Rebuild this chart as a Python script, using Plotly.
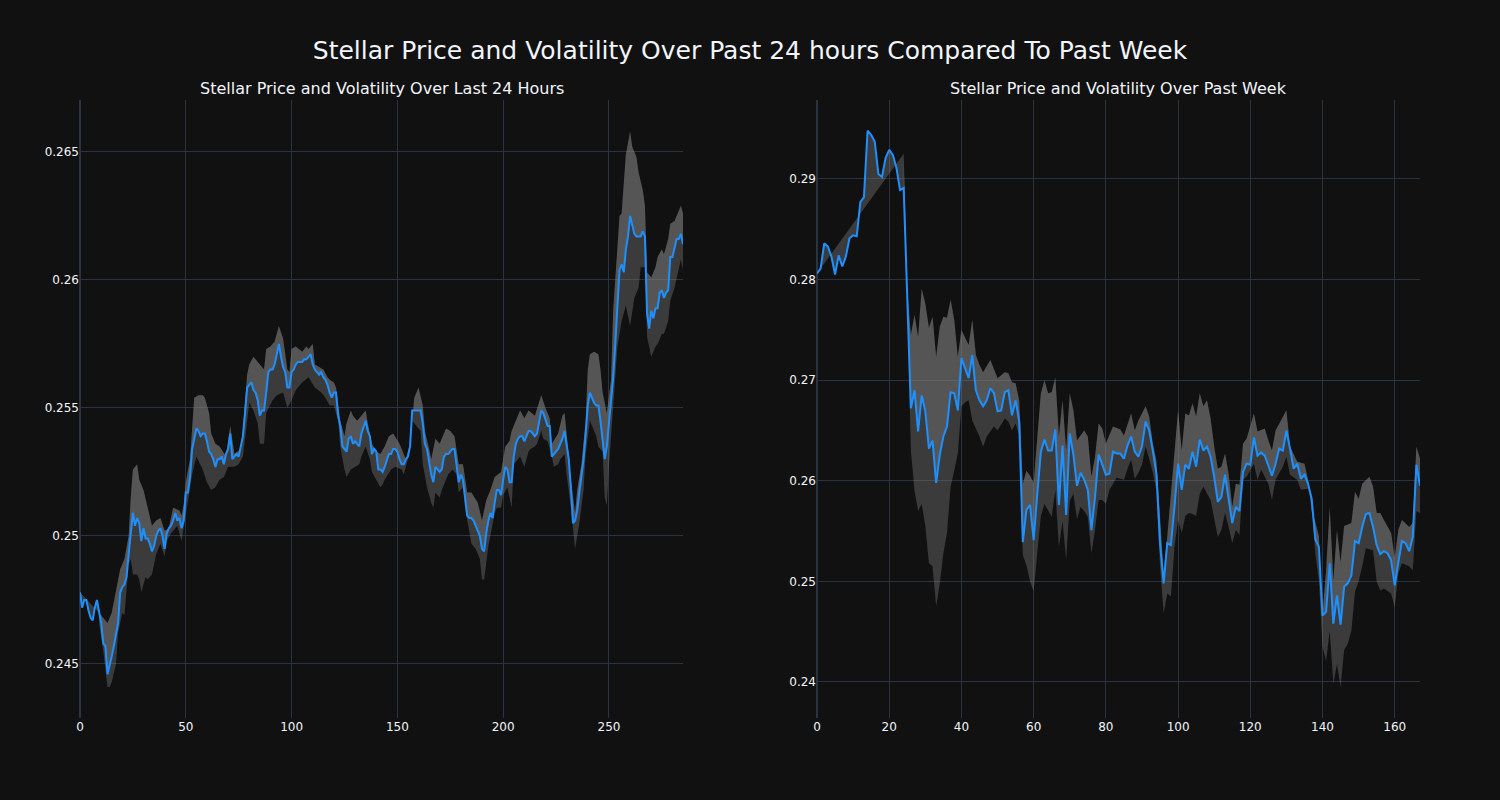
import plotly.graph_objects as go
from plotly.subplots import make_subplots

# ---------------- data: last 24 hours (5-minute steps) ----------------
day_price = [
    0.2478, 0.2472, 0.2475, 0.2475, 0.2471, 0.2468, 0.2467, 0.2472, 0.2475, 0.2470,
    0.2466, 0.2458, 0.2457, 0.2446, 0.2449, 0.2453, 0.2457, 0.2462, 0.2466, 0.2478,
    0.2480, 0.2481, 0.2484, 0.2493, 0.2501, 0.2509, 0.2504, 0.2507, 0.2505, 0.2498,
    0.2503, 0.2499, 0.2499, 0.2497, 0.2494, 0.2496, 0.2500, 0.2502, 0.2503, 0.2500,
    0.2495, 0.2501, 0.2503, 0.2504, 0.2506, 0.2509, 0.2506, 0.2507, 0.2503, 0.2506,
    0.2517, 0.2517, 0.2523, 0.2534, 0.2538, 0.2542, 0.2541, 0.2539, 0.2540, 0.2540,
    0.2537, 0.2533, 0.2532, 0.2530, 0.2527, 0.2530, 0.2530, 0.2531, 0.2528, 0.2532,
    0.2534, 0.2540, 0.2530, 0.2531, 0.2532, 0.2531, 0.2535, 0.2539, 0.2548, 0.2558,
    0.2559, 0.2560, 0.2557, 0.2556, 0.2553, 0.2547, 0.2549, 0.2549, 0.2556, 0.2564,
    0.2565, 0.2565, 0.2567, 0.2571, 0.2575, 0.2570, 0.2566, 0.2564, 0.2558, 0.2558,
    0.2564, 0.2565, 0.2567, 0.2568, 0.2568, 0.2568, 0.2569, 0.2569, 0.2570, 0.2571,
    0.2567, 0.2565, 0.2564, 0.2563, 0.2564, 0.2562, 0.2561, 0.2559, 0.2556, 0.2554,
    0.2556, 0.2556, 0.2547, 0.2543, 0.2535, 0.2534, 0.2533, 0.2538, 0.2539, 0.2536,
    0.2537, 0.2536, 0.2535, 0.2540, 0.2543, 0.2545, 0.2541, 0.2539, 0.2532, 0.2534,
    0.2533, 0.2526, 0.2526, 0.2525, 0.2527, 0.2530, 0.2532, 0.2532, 0.2534, 0.2534,
    0.2533, 0.2530, 0.2528, 0.2528, 0.2530, 0.2531, 0.2535, 0.2549, 0.2549, 0.2549,
    0.2549, 0.2549, 0.2544, 0.2536, 0.2534, 0.2528, 0.2524, 0.2521, 0.2527, 0.2526,
    0.2525, 0.2526, 0.2531, 0.2532, 0.2532, 0.2533, 0.2534, 0.2534, 0.2528, 0.2521,
    0.2524, 0.2522, 0.2515, 0.2508, 0.2507, 0.2507, 0.2506, 0.2504, 0.2502, 0.2500,
    0.2495, 0.2494, 0.2501, 0.2506, 0.2509, 0.2507, 0.2513, 0.2518, 0.2518, 0.2516,
    0.2522, 0.2527, 0.2526, 0.2521, 0.2521, 0.2531, 0.2536, 0.2538, 0.2539, 0.2539,
    0.2537, 0.2539, 0.2541, 0.2541, 0.2540, 0.2539, 0.2540, 0.2545, 0.2549, 0.2548,
    0.2545, 0.2543, 0.2543, 0.2531, 0.2532, 0.2533, 0.2534, 0.2536, 0.2538, 0.2541,
    0.2536, 0.2530, 0.2519, 0.2505, 0.2506, 0.2510, 0.2517, 0.2524, 0.2530, 0.2540,
    0.2551, 0.2556, 0.2554, 0.2552, 0.2551, 0.2551, 0.2545, 0.2538, 0.2530, 0.2535,
    0.2544, 0.2553, 0.2562, 0.2575, 0.2590, 0.2604, 0.2606, 0.2603, 0.2612, 0.2617,
    0.2625, 0.2622, 0.2618, 0.2617, 0.2617, 0.2617, 0.2619, 0.2617, 0.2587, 0.2581,
    0.2588, 0.2585, 0.2589, 0.2589, 0.2595, 0.2596, 0.2593, 0.2595, 0.2596, 0.2609,
    0.2609, 0.2612, 0.2616, 0.2616, 0.2618, 0.2614,
]

day_upper_x = [
    9, 11, 13, 15, 17, 19, 21, 23, 24, 25, 27, 28, 30, 32, 34, 36, 38, 40, 42, 44,
    47, 48, 49, 50, 52, 54, 56, 58, 59, 61, 62, 64, 66, 69, 71, 73, 76, 77, 79, 80,
    82, 85, 87, 88, 90, 92, 93, 94, 96, 97, 98, 99, 100, 102, 105, 107, 108, 110, 111, 113,
    115, 117, 118, 120, 121, 123, 125, 126, 128, 129, 131, 133, 135, 136, 138, 140, 142, 144, 146, 148,
    151, 154, 156, 158, 160, 162, 163, 165, 166, 168, 170, 173, 175, 177, 179, 181, 183, 185, 188, 190,
    192, 194, 196, 199, 201, 203, 204, 206, 208, 210, 212, 215, 216, 218, 220, 222, 223, 226, 228, 229,
    230, 232, 234, 235, 237, 239, 240, 241, 243, 245, 246, 247, 249, 251, 252, 253, 255, 256, 258, 260,
    261, 263, 264, 266, 267, 268, 270, 272, 273, 275, 276, 278, 279, 281, 283, 284, 285,
]
day_upper = [
    0.2470, 0.2468, 0.2466, 0.2470, 0.2478, 0.2487, 0.2491, 0.2500, 0.2515, 0.2526,
    0.2528, 0.2522, 0.2518, 0.2511, 0.2504, 0.2506, 0.2507, 0.2502, 0.2503, 0.2511,
    0.2510, 0.2508, 0.2512, 0.2521, 0.2530, 0.2554, 0.2555, 0.2555, 0.2554, 0.2548,
    0.2540, 0.2536, 0.2535, 0.2531, 0.2543, 0.2532, 0.2534, 0.2542, 0.2563, 0.2567,
    0.2570, 0.2567, 0.2565, 0.2573, 0.2574, 0.2576, 0.2579, 0.2582, 0.2577, 0.2570,
    0.2565, 0.2564, 0.2573, 0.2574, 0.2572, 0.2574, 0.2573, 0.2575, 0.2567, 0.2566,
    0.2565, 0.2562, 0.2561, 0.2560, 0.2558, 0.2545, 0.2539, 0.2544, 0.2549, 0.2547,
    0.2545, 0.2547, 0.2549, 0.2544, 0.2536, 0.2533, 0.2532, 0.2535, 0.2539, 0.2540,
    0.2536, 0.2530, 0.2536, 0.2554, 0.2558, 0.2551, 0.2541, 0.2534, 0.2530, 0.2538,
    0.2536, 0.2542, 0.2541, 0.2539, 0.2528, 0.2528, 0.2517, 0.2517, 0.2513, 0.2506,
    0.2514, 0.2518, 0.2523, 0.2525, 0.2535, 0.2537, 0.2541, 0.2545, 0.2549, 0.2546,
    0.2549, 0.2547, 0.2550, 0.2555, 0.2550, 0.2546, 0.2536, 0.2540, 0.2547, 0.2548,
    0.2540, 0.2522, 0.2509, 0.2518, 0.2528, 0.2545, 0.2565, 0.2571, 0.2572, 0.2571,
    0.2565, 0.2556, 0.2548, 0.2561, 0.2588, 0.2599, 0.2625, 0.2626, 0.2649, 0.2658,
    0.2652, 0.2648, 0.2642, 0.2635, 0.2629, 0.2603, 0.2601, 0.2605, 0.2609, 0.2612,
    0.2610, 0.2616, 0.2622, 0.2623, 0.2627, 0.2629, 0.2626,
]

day_lower_x = [
    9, 11, 13, 14, 15, 17, 18, 20, 21, 23, 24, 25, 27, 28, 29, 31, 32, 34, 36, 38,
    40, 41, 43, 46, 48, 50, 51, 53, 55, 58, 60, 62, 64, 66, 68, 70, 73, 75, 77, 80,
    82, 84, 85, 87, 88, 91, 93, 96, 98, 100, 102, 105, 108, 111, 114, 116, 118, 120, 122, 123,
    125, 126, 128, 130, 132, 133, 135, 137, 138, 140, 142, 143, 144, 147, 149, 152, 153, 155, 157, 159,
    161, 162, 164, 166, 167, 168, 170, 171, 173, 174, 176, 178, 179, 181, 182, 184, 185, 187, 189, 190,
    191, 193, 194, 196, 197, 199, 200, 202, 204, 205, 207, 208, 210, 212, 213, 215, 216, 218, 219, 221,
    223, 224, 226, 227, 229, 230, 232, 234, 236, 238, 239, 241, 242, 244, 245, 247, 248, 249, 250, 252,
    253, 254, 256, 258, 260, 262, 264, 265, 267, 268, 269, 270, 272, 273, 275, 276, 278, 279, 281, 283,
    284, 285,
]
day_lower = [
    0.2466, 0.2455, 0.2441, 0.2441, 0.2443, 0.2450, 0.2462, 0.2470, 0.2469, 0.2489,
    0.2491, 0.2485, 0.2485, 0.2483, 0.2478, 0.2484, 0.2483, 0.2485, 0.2493, 0.2497,
    0.2492, 0.2498, 0.2501, 0.2504, 0.2498, 0.2509, 0.2513, 0.2524, 0.2531, 0.2526,
    0.2521, 0.2518, 0.2519, 0.2522, 0.2523, 0.2527, 0.2527, 0.2528, 0.2531, 0.2552,
    0.2549, 0.2544, 0.2536, 0.2536, 0.2548, 0.2553, 0.2555, 0.2556, 0.2550, 0.2553,
    0.2557, 0.2560, 0.2562, 0.2558, 0.2556, 0.2554, 0.2551, 0.2551, 0.2545, 0.2535,
    0.2526, 0.2523, 0.2526, 0.2527, 0.2528, 0.2531, 0.2535, 0.2530, 0.2525, 0.2522,
    0.2519, 0.2520, 0.2522, 0.2526, 0.2527, 0.2526, 0.2524, 0.2530, 0.2545, 0.2543,
    0.2541, 0.2528, 0.2519, 0.2513, 0.2511, 0.2517, 0.2515, 0.2518, 0.2522, 0.2524,
    0.2526, 0.2524, 0.2517, 0.2519, 0.2511, 0.2502, 0.2497, 0.2495, 0.2491, 0.2483,
    0.2483, 0.2496, 0.2500, 0.2509, 0.2511, 0.2511, 0.2516, 0.2519, 0.2511, 0.2528,
    0.2530, 0.2531, 0.2527, 0.2533, 0.2534, 0.2535, 0.2536, 0.2541, 0.2538, 0.2537,
    0.2531, 0.2527, 0.2528, 0.2530, 0.2532, 0.2524, 0.2511, 0.2495, 0.2505, 0.2518,
    0.2532, 0.2545, 0.2543, 0.2539, 0.2535, 0.2533, 0.2515, 0.2512, 0.2527, 0.2551,
    0.2565, 0.2574, 0.2584, 0.2590, 0.2582, 0.2593, 0.2597, 0.2605, 0.2605, 0.2578,
    0.2574, 0.2570, 0.2574, 0.2575, 0.2579, 0.2579, 0.2584, 0.2592, 0.2597, 0.2605,
    0.2608, 0.2604,
]

# ---------------- data: past week (hourly steps) ----------------
week_price = [
    0.2806, 0.2811, 0.2836, 0.2833, 0.2823, 0.2805, 0.2824, 0.2813, 0.2823, 0.2841,
    0.2844, 0.2843, 0.2877, 0.2882, 0.2948, 0.2944, 0.2937, 0.2905, 0.2902, 0.2921,
    0.2929, 0.2924, 0.2911, 0.2889, 0.2891, 0.2780, 0.2672, 0.2690, 0.2649, 0.2685,
    0.2669, 0.2632, 0.2640, 0.2598, 0.2626, 0.2644, 0.2654, 0.2688, 0.2687, 0.2670,
    0.2722, 0.2712, 0.2702, 0.2725, 0.2690, 0.2680, 0.2674, 0.2680, 0.2692, 0.2687,
    0.2669, 0.2670, 0.2688, 0.2690, 0.2665, 0.2680, 0.2659, 0.2539, 0.2571, 0.2576,
    0.2541, 0.2587, 0.2629, 0.2641, 0.2630, 0.2630, 0.2651, 0.2576, 0.2635, 0.2566,
    0.2647, 0.2626, 0.2595, 0.2608, 0.2601, 0.2591, 0.2551, 0.2584, 0.2626, 0.2616,
    0.2606, 0.2607, 0.2629, 0.2627, 0.2627, 0.2622, 0.2635, 0.2644, 0.2629, 0.2624,
    0.2634, 0.2659, 0.2650, 0.2630, 0.2607, 0.2538, 0.2498, 0.2538, 0.2536, 0.2574,
    0.2617, 0.2591, 0.2616, 0.2612, 0.2629, 0.2614, 0.2641, 0.2630, 0.2634, 0.2624,
    0.2604, 0.2579, 0.2584, 0.2606, 0.2584, 0.2558, 0.2574, 0.2570, 0.2609, 0.2617,
    0.2616, 0.2643, 0.2625, 0.2628, 0.2625, 0.2616, 0.2605, 0.2617, 0.2632, 0.2630,
    0.2650, 0.2632, 0.2612, 0.2617, 0.2602, 0.2606, 0.2597, 0.2582, 0.2542, 0.2534,
    0.2466, 0.2470, 0.2518, 0.2458, 0.2486, 0.2457, 0.2495, 0.2498, 0.2506, 0.2540,
    0.2538, 0.2554, 0.2567, 0.2568, 0.2554, 0.2536, 0.2527, 0.2530, 0.2528, 0.2521,
    0.2496, 0.2519, 0.2540, 0.2538, 0.2530, 0.2544, 0.2616, 0.2595,
]

week_upper_x = [
    24, 25, 26, 27, 28, 29, 30, 31, 32, 33, 34, 35, 36, 37, 38, 39, 40, 42, 43, 44,
    45, 46, 48, 49, 50, 52, 53, 54, 55, 56, 57, 58, 59, 60, 61, 62, 63, 64, 65, 66,
    67, 68, 69, 70, 71, 72, 74, 75, 76, 77, 78, 79, 80, 82, 84, 85, 87, 88, 89, 91,
    92, 93, 94, 95, 96, 97, 98, 99, 100, 101, 102, 103, 104, 105, 106, 107, 108, 109, 110, 111,
    112, 113, 114, 115, 116, 117, 118, 119, 121, 122, 124, 125, 126, 127, 128, 130, 131, 132, 133, 135,
    136, 137, 138, 139, 140, 141, 142, 143, 144, 145, 146, 148, 149, 150, 151, 153, 154, 155, 156, 157,
    159, 160, 161, 162, 164, 165, 166, 167,
]
week_upper = [
    0.2925, 0.2790, 0.2745, 0.2765, 0.2743, 0.2791, 0.2776, 0.2752, 0.2763, 0.2723,
    0.2753, 0.2763, 0.2762, 0.2780, 0.2760, 0.2723, 0.2750, 0.2735, 0.2760, 0.2725,
    0.2715, 0.2708, 0.2720, 0.2710, 0.2702, 0.2708, 0.2707, 0.2698, 0.2697, 0.2680,
    0.2597, 0.2610, 0.2605, 0.2598, 0.2640, 0.2687, 0.2700, 0.2687, 0.2688, 0.2703,
    0.2644, 0.2680, 0.2630, 0.2687, 0.2670, 0.2640, 0.2650, 0.2644, 0.2604, 0.2624,
    0.2657, 0.2652, 0.2637, 0.2654, 0.2651, 0.2645, 0.2667, 0.2650, 0.2660, 0.2674,
    0.2664, 0.2637, 0.2620, 0.2560, 0.2508, 0.2544, 0.2584, 0.2624, 0.2670, 0.2630,
    0.2667, 0.2665, 0.2677, 0.2664, 0.2687, 0.2674, 0.2680, 0.2662, 0.2634, 0.2612,
    0.2614, 0.2627, 0.2607, 0.2574, 0.2597, 0.2596, 0.2637, 0.2642, 0.2667, 0.2649,
    0.2652, 0.2640, 0.2630, 0.2650, 0.2657, 0.2670, 0.2634, 0.2627, 0.2619, 0.2617,
    0.2601, 0.2570, 0.2559, 0.2545, 0.2468, 0.2511, 0.2574, 0.2501, 0.2551, 0.2519,
    0.2555, 0.2558, 0.2589, 0.2582, 0.2597, 0.2604, 0.2594, 0.2568, 0.2568, 0.2561,
    0.2548, 0.2524, 0.2551, 0.2561, 0.2554, 0.2558, 0.2634, 0.2622,
]

week_lower_x = [
    24, 25, 26, 27, 28, 29, 30, 31, 32, 33, 34, 35, 36, 37, 38, 39, 40, 41, 42, 43,
    45, 46, 47, 49, 50, 52, 53, 54, 55, 56, 57, 58, 59, 60, 61, 62, 63, 64, 65, 66,
    67, 68, 69, 70, 71, 72, 73, 74, 75, 76, 77, 78, 79, 80, 81, 83, 84, 85, 86, 87,
    88, 89, 90, 91, 92, 93, 94, 95, 96, 97, 98, 99, 100, 101, 102, 103, 104, 105, 106, 107,
    109, 110, 111, 112, 113, 114, 115, 116, 117, 118, 119, 121, 122, 123, 125, 126, 127, 129, 130, 131,
    133, 134, 136, 137, 138, 139, 140, 141, 142, 143, 144, 145, 146, 147, 148, 149, 150, 151, 152, 154,
    155, 156, 157, 159, 160, 161, 162, 164, 165, 166, 167,
]
week_lower = [
    0.2885, 0.2775, 0.2630, 0.2590, 0.2570, 0.2577, 0.2555, 0.2518, 0.2515, 0.2475,
    0.2498, 0.2528, 0.2548, 0.2594, 0.2610, 0.2627, 0.2674, 0.2678, 0.2680, 0.2660,
    0.2644, 0.2634, 0.2644, 0.2654, 0.2650, 0.2662, 0.2659, 0.2650, 0.2657, 0.2645,
    0.2526, 0.2516, 0.2500, 0.2490, 0.2528, 0.2565, 0.2577, 0.2570, 0.2564, 0.2591,
    0.2534, 0.2560, 0.2521, 0.2580, 0.2587, 0.2562, 0.2574, 0.2570, 0.2564, 0.2528,
    0.2551, 0.2581, 0.2581, 0.2577, 0.2591, 0.2603, 0.2602, 0.2601, 0.2612, 0.2621,
    0.2602, 0.2608, 0.2616, 0.2634, 0.2622, 0.2608, 0.2590, 0.2515, 0.2468, 0.2488,
    0.2485, 0.2534, 0.2561, 0.2548, 0.2565, 0.2568, 0.2567, 0.2565, 0.2587, 0.2594,
    0.2581, 0.2561, 0.2544, 0.2551, 0.2568, 0.2554, 0.2538, 0.2551, 0.2546, 0.2601,
    0.2604, 0.2617, 0.2601, 0.2611, 0.2597, 0.2581, 0.2601, 0.2614, 0.2624, 0.2606,
    0.2601, 0.2591, 0.2592, 0.2577, 0.2528, 0.2501, 0.2435, 0.2421, 0.2451, 0.2398,
    0.2418, 0.2395, 0.2432, 0.2438, 0.2451, 0.2490, 0.2500, 0.2515, 0.2533, 0.2531,
    0.2500, 0.2491, 0.2493, 0.2488, 0.2474, 0.2508, 0.2518, 0.2515, 0.2511, 0.2570,
    0.2568,
]

subplot_titles = ["Stellar Price and Volatility Over Last 24 Hours",
                  "Stellar Price and Volatility Over Past Week"]
main_title = "Stellar Price and Volatility Over Past 24 hours Compared To Past Week"

LINE_COLOR = "dodgerblue"
BAND_FILL = "rgba(128,128,128,0.38)"
FONT = "DejaVu Sans"

fig = make_subplots(rows=1, cols=2, subplot_titles=subplot_titles,
                    horizontal_spacing=0.1)


def add_panel(col, price, ux, upper, lx, lower):
    px = list(range(len(price)))
    fig.add_trace(go.Scatter(x=lx, y=lower, mode="lines",
                             line=dict(width=0, color="rgba(0,0,0,0)"),
                             hoverinfo="skip", showlegend=False), row=1, col=col)
    fig.add_trace(go.Scatter(x=ux, y=upper, mode="lines",
                             line=dict(width=0, color="rgba(0,0,0,0)"),
                             fill="tonexty", fillcolor=BAND_FILL,
                             hoverinfo="skip", showlegend=False), row=1, col=col)
    fig.add_trace(go.Scatter(x=px, y=price, mode="lines",
                             line=dict(width=2, color=LINE_COLOR),
                             fill="tonexty", fillcolor=BAND_FILL,
                             showlegend=False), row=1, col=col)


add_panel(1, day_price, day_upper_x, day_upper, day_lower_x, day_lower)
add_panel(2, week_price, week_upper_x, week_upper, week_lower_x, week_lower)

fig.update_layout(
    template="plotly_dark",
    width=1500, height=800,
    margin=dict(l=80, r=80, t=100, b=82),
    font=dict(family=FONT),
    title=dict(text=main_title, x=0.5, xanchor="center",
               y=0.9375, yanchor="middle",
               font=dict(size=25, family=FONT)),
    showlegend=False,
)
for ann in fig.layout.annotations:
    ann.font = dict(size=16, family=FONT)

fig.update_xaxes(range=[0, len(day_price) - 1], row=1, col=1)
fig.update_xaxes(range=[0, len(week_price) - 1], row=1, col=2)
fig.update_yaxes(range=[0.24289, 0.26703], row=1, col=1)
fig.update_yaxes(range=[0.23642, 0.29785], row=1, col=2)

fig.write_html(
    "out.html",
    config={"displayModeBar": False},
    post_script=("document.body.style.margin='0px';"
                 "document.body.style.overflow='hidden';"
                 "document.body.style.background='#111111';"),
)
